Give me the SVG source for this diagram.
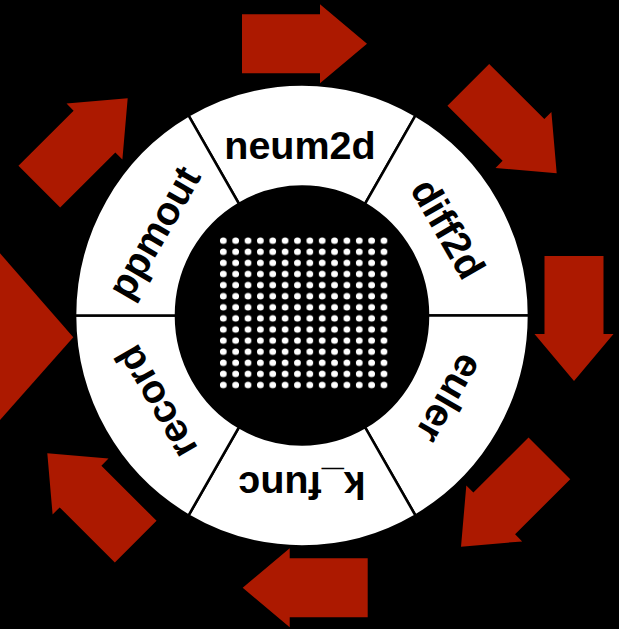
<svg xmlns="http://www.w3.org/2000/svg" width="619" height="629" viewBox="0 0 619 629">
  <style>
    .seg { fill: #ffffff; stroke: #000000; stroke-width: 2.6; stroke-linejoin: miter; }
    .lbl { font-family: "Liberation Sans", Arial, Helvetica, sans-serif; font-weight: bold; font-size: 39.5px; fill: #000000; text-anchor: middle; }
    .arr { fill: #ac1900; }
  </style>
  <defs>
    <polygon id="arrow" points="-62.5,-29.5 15.5,-29.5 15.5,-39.5 62.5,0 15.5,39.5 15.5,29.5 -62.5,29.5"/>
    <pattern id="dots" patternUnits="userSpaceOnUse" x="217.12" y="235.15" width="12.36" height="11.1">
      <ellipse cx="6.18" cy="5.55" rx="3.4" ry="3.3" fill="#ffffff"/>
    </pattern>
  </defs>
  <rect x="0" y="0" width="619" height="629" fill="#000000"/>

  <g id="connectors" class="arr">
    <use href="#arrow" transform="translate(304.5,43.7)"/>
    <use href="#arrow" transform="translate(512.5,129) rotate(45)"/>
    <use href="#arrow" transform="translate(574,318.5) rotate(90)"/>
    <use href="#arrow" transform="translate(505.2,502.5) rotate(135)"/>
    <use href="#arrow" transform="translate(305.2,587.8) rotate(180)"/>
    <use href="#arrow" transform="translate(91.5,497.5) rotate(225)"/>
    <polygon points="0,253.3 73.3,337.3 0,420"/>
    <use href="#arrow" transform="translate(83.5,142.5) rotate(-45)"/>
  </g>

  <g id="neum2d">
    <path class="seg" d="M188.5,115.45 A227,231 0 0 1 415.5,115.45 L365,203.79 A126,129 0 0 0 239,203.79 Z"/>
    <text class="lbl" x="300" y="159.3">neum2d</text>
  </g>
  <g id="diff2d">
    <path class="seg" d="M415.5,115.45 A227,231 0 0 1 529,315.5 L428,315.5 A126,129 0 0 0 365,203.79 Z"/>
    <text class="lbl" x="300" y="159.3" transform="rotate(60 302 315.5)">diff2d</text>
  </g>
  <g id="euler">
    <path class="seg" d="M529,315.5 A227,231 0 0 1 415.5,515.55 L365,427.21 A126,129 0 0 0 428,315.5 Z"/>
    <text class="lbl" x="300" y="159.3" transform="rotate(120 302 315.5)">euler</text>
  </g>
  <g id="k_func">
    <path class="seg" d="M415.5,515.55 A227,231 0 0 1 188.5,515.55 L239,427.21 A126,129 0 0 0 365,427.21 Z"/>
    <text class="lbl" x="302" y="159.3" transform="rotate(180 302 315.5)">k_func</text>
  </g>
  <g id="record">
    <path class="seg" d="M188.5,515.55 A227,231 0 0 1 75,315.5 L176,315.5 A126,129 0 0 0 239,427.21 Z"/>
    <text class="lbl" x="300" y="159.3" transform="rotate(240 302 315.5)">record</text>
  </g>
  <g id="ppmout">
    <path class="seg" d="M75,315.5 A227,231 0 0 1 188.5,115.45 L239,203.79 A126,129 0 0 0 176,315.5 Z"/>
    <text class="lbl" x="300" y="159.3" transform="rotate(300 302 315.5)">ppmout</text>
  </g>

  <g id="grid">
    <ellipse cx="302" cy="315.5" rx="126" ry="129" fill="#000000"/>
    <rect x="217.12" y="235.15" width="173.04" height="155.4" fill="url(#dots)"/>
  </g>
</svg>
